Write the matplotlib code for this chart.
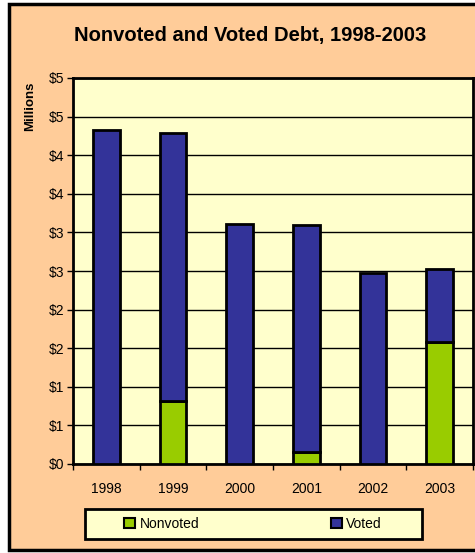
import matplotlib.pyplot as plt
from matplotlib.patches import Rectangle, Patch
from matplotlib.ticker import FuncFormatter, MultipleLocator
import numpy as np

years = ['1998', '1999', '2000', '2001', '2002', '2003']
nonvoted = [0.0, 0.82, 0.0, 0.15, 0.0, 1.58]
voted = [4.33, 3.47, 3.11, 2.95, 2.47, 0.95]

peach = '#FFCC99'
cream = '#FFFFCC'
c_voted = '#333399'
c_nonvoted = '#99CC00'

plt.rcParams['font.family'] = ['Liberation Sans', 'DejaVu Sans']

fig = plt.figure(figsize=(4.75, 5.53), dpi=100)
fig.patch.set_facecolor('white')

# outer chart frame
fig.patches.append(Rectangle((9 / 475, 3 / 553), 1.0, 546 / 553, transform=fig.transFigure,
                             facecolor=peach, edgecolor='black', linewidth=2.5, zorder=-10))

ax = fig.add_axes([73 / 475, 89 / 553, 400 / 475, 386 / 553])
ax.set_facecolor(cream)

x = np.arange(len(years))
ax.bar(x, nonvoted, width=0.4, color=c_nonvoted, edgecolor='black', linewidth=2, zorder=3)
ax.bar(x, voted, width=0.4, bottom=nonvoted, color=c_voted, edgecolor='black', linewidth=2, zorder=3)

ax.set_xlim(-0.5, len(years) - 0.5)
ax.set_ylim(0, 5)
ax.yaxis.set_major_locator(MultipleLocator(0.5))
ax.yaxis.set_major_formatter(FuncFormatter(lambda v, p: '$%d' % int(v + 0.5)))
ax.grid(axis='y', color='black', linewidth=1, zorder=0)
ax.set_axisbelow(True)

ax.set_xticks(x)
ax.set_xticklabels(years)
ax.set_xticks(np.arange(-0.5, len(years)), minor=True)
ax.tick_params(axis='x', which='major', length=0, pad=13, labelsize=10)
ax.tick_params(axis='x', which='minor', length=4, width=1)
ax.tick_params(axis='y', length=4, width=1, labelsize=10, pad=2)

for s in ax.spines.values():
    s.set_linewidth(2)
    s.set_color('black')

fig.text(30 / 475, 1 - 106 / 553, 'Millions', rotation=90, ha='center', va='center',
         fontsize=9.5, fontweight='bold')
fig.text(250 / 475, 1 - 36 / 553, 'Nonvoted and Voted Debt, 1998-2003', ha='center', va='center',
         fontsize=14.5, fontweight='bold')

# legend box
fig.patches.append(Rectangle((85 / 475, 1 - 539 / 553), 337 / 475, 30 / 553, transform=fig.transFigure,
                             facecolor=cream, edgecolor='black', linewidth=2))
handles = [Patch(facecolor=c_nonvoted, edgecolor='black', linewidth=1.5, label='Nonvoted'),
           Patch(facecolor=c_voted, edgecolor='black', linewidth=1.5, label='Voted')]
fig.legend(handles=handles, loc='center', bbox_to_anchor=(253 / 475, 1 - 524 / 553), ncol=2,
           frameon=False, fontsize=10, handlelength=0.8, handleheight=0.8, handletextpad=0.3,
           columnspacing=9.5)

fig.savefig('out.png', dpi=100)
